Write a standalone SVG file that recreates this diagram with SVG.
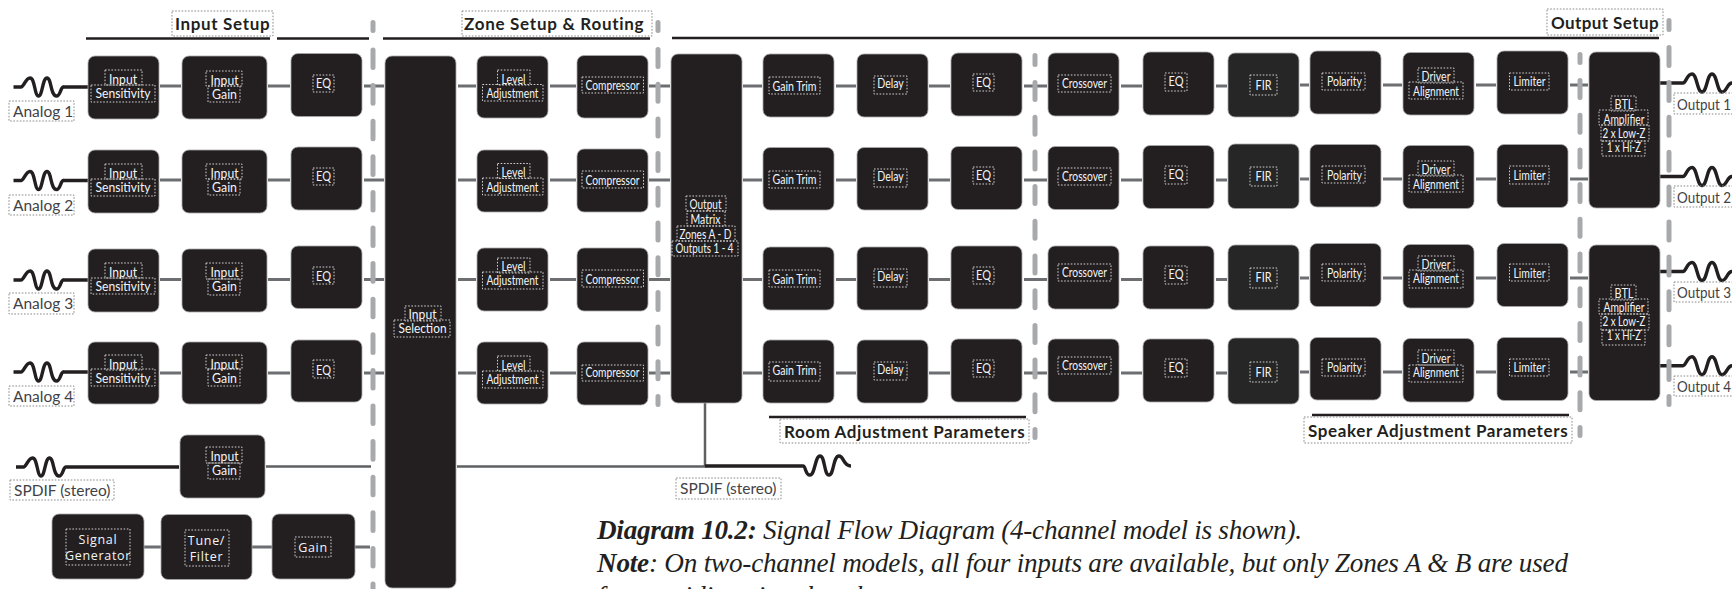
<svg xmlns="http://www.w3.org/2000/svg" xmlns:xlink="http://www.w3.org/1999/xlink" width="1732" height="589" viewBox="0 0 1732 589">
<style>
text{font-family:Lato,"Open Sans","Liberation Sans",sans-serif}
.n{fill:#231f20;stroke:#a8a8a8;stroke-width:.8}
.f{fill:#262626;stroke:#a8a8a8;stroke-width:.8}
.d{fill:none;stroke:#cfcfcf;stroke-width:1;stroke-dasharray:1.6 1.6}
.o{fill:none;stroke:#8a8a8a;stroke-width:1;stroke-dasharray:1.6 1.6}
.t{fill:#f2f5f8;font-size:12.8px;text-anchor:middle}
.s{fill:#f2f5f8;text-anchor:middle;letter-spacing:.7px;font-family:"Open Sans",sans-serif;font-size:12.5px}
.l{fill:#3f4246;font-size:15.5px}
.h{fill:#231f20;font-size:17px;font-weight:700;letter-spacing:.4px}
.c{fill:none;stroke:#6d6e71;stroke-width:3}
.b{fill:none;stroke:#231f20;stroke-width:3.4}
.r{fill:none;stroke:#231f20;stroke-width:2.6}
.v{fill:none;stroke:#5f6062;stroke-width:2.5}
.q{fill:none;stroke:#a7a9ac;stroke-width:5;stroke-linecap:round;stroke-dasharray:17 17.7}
.q1{fill:none;stroke:#a7a9ac;stroke-width:5;stroke-linecap:round}
.e{font-family:"Liberation Serif",serif;font-style:italic;font-size:27.2px;fill:#231f20}
</style>
<defs>
<path id="w" d="M0 0H7.5C10.5 0 12-9 16.5-9C21.5-9 21 9 25 9C29 9 29-9 33.5-9C38-9 37 9 43 9C47 9 47 0 50 0"/>
<path id="x" d="M0 0C3 0 4-9 9-9C14-9 14 9 19 9C24 9 24-9 29-9C34-9 34 9 39 9C44 9 44 0 49 0"/>
</defs>
<g id="connectors">
<path class="c" d="M160 86H181M268 86H290M364 86H384M458 86H476M550 86H576M649 86H670M743 86H762M836 86H856M929 86H950M1024 86H1047M1121 86H1142M1216 86H1227M1300 85H1309M1383 85H1402M1476 85H1496M1570 85H1588"/>
<path class="c" d="M160 180H181M268 180H290M364 180H384M458 180H476M550 180H576M649 180H670M743 180H762M836 180H856M929 180H950M1024 180H1047M1121 180H1142M1216 180H1227M1300 179H1309M1383 179H1402M1476 179H1496M1570 179H1588"/>
<path class="c" d="M160 279.500H181M268 279.500H290M364 279.500H384M458 279.500H476M550 279.500H576M649 279.500H670M743 279.500H762M836 279.500H856M929 279.500H950M1024 279.500H1047M1121 279.500H1142M1216 279.500H1227M1300 278H1309M1383 278H1402M1476 278H1496M1570 278H1588"/>
<path class="c" d="M160 373H181M268 373H290M364 373H384M458 373H476M550 373H576M649 373H670M743 373H762M836 373H856M929 373H950M1024 373H1047M1121 373H1142M1216 373H1227M1300 372H1309M1383 372H1402M1476 372H1496M1570 372H1588"/>
<path class="c" d="M144 547H161M252 547H272M355 547H370"/>
<path class="v" d="M266 466.500H371M457 466.500H705M705 403V466"/>
<path class="b" d="M63 87H88M63 180.500H88M63 280H88M63 372H88M66 467H179M1660 83H1683M1660 176.500H1683M1660 271.500H1683M1660 365.700H1683"/>
<path class="b" d="M705 466H803C806 466 805 475 810 475C815 475 815 456 820 456C825 456 824 475 829 475C834 475 833 456 839 456C844 456 843 466 851 466"/>
<use class="b" href="#w" x="13.500" y="87"/><use class="b" href="#w" x="13.500" y="180.500"/><use class="b" href="#w" x="13.500" y="280"/><use class="b" href="#w" x="13.500" y="372"/><use class="b" href="#w" x="16" y="467"/>
<use class="b" href="#x" x="1683" y="83"/><use class="b" href="#x" x="1683" y="176.500"/><use class="b" href="#x" x="1683" y="271.500"/><use class="b" href="#x" x="1683" y="365.700"/>
</g>
<g id="section-rules">
<path class="r" d="M86 38.500H270M277 38.500H369M383 38.500H650M672 38H1659M769 417H1026M1312 415H1569"/>
<path class="q1" d="M373 22.500V30.500M658 22.500V30.500M1035 55.500V64.500M1580 54.500V62.500M1669 20.500V29.500"/>
<path class="q" style="stroke-dasharray:17.600 18" d="M373 50V589"/>
<path class="q" d="M658 49.500V404.500"/>
<path class="q" d="M1035 82.500V437.500"/>
<path class="q" d="M1580 80.500V435.500"/>
<path class="q" style="stroke-dasharray:18 16.900" d="M1669 47.500V404.500"/>
</g>
<g id="headers">
<g id="h-input"><rect class="o" x="172" y="11" width="101" height="25"/><text class="h" x="175" y="30" textLength="95">Input Setup</text></g>
<g id="h-zone"><rect class="o" x="462" y="11" width="190" height="25"/><text class="h" x="464" y="30" textLength="180">Zone Setup &amp; Routing</text></g>
<g id="h-output"><rect class="o" x="1547" y="9" width="116" height="26"/><text class="h" x="1551" y="29" textLength="108">Output Setup</text></g>
<g id="h-room"><rect class="o" x="780" y="419" width="249" height="24"/><text class="h" x="784" y="438" textLength="241">Room Adjustment Parameters</text></g>
<g id="h-speaker"><rect class="o" x="1304" y="417" width="268" height="26"/><text class="h" x="1308" y="437" textLength="260">Speaker Adjustment Parameters</text></g>
</g>
<g id="labels">
<g id="l-a1"><rect class="o" x="9" y="101" width="65" height="20"/><text class="l" x="13" y="117">Analog 1</text></g>
<g id="l-a2"><rect class="o" x="9" y="195" width="65" height="20"/><text class="l" x="13" y="211">Analog 2</text></g>
<g id="l-a3"><rect class="o" x="9" y="293" width="65" height="21"/><text class="l" x="13" y="309">Analog 3</text></g>
<g id="l-a4"><rect class="o" x="9" y="386" width="65" height="20"/><text class="l" x="13" y="402">Analog 4</text></g>
<g id="l-sp1"><rect class="o" x="10" y="480" width="104" height="20"/><text class="l" x="14" y="496">SPDIF (stereo)</text></g>
<g id="l-sp2"><rect class="o" x="676" y="478" width="105" height="21"/><text class="l" x="680" y="494">SPDIF (stereo)</text></g>
<g id="l-o1"><rect class="o" x="1674" y="93" width="70" height="21"/><text class="l" x="1677" y="110" textLength="54" lengthAdjust="spacingAndGlyphs">Output 1</text></g>
<g id="l-o2"><rect class="o" x="1674" y="186" width="70" height="21"/><text class="l" x="1677" y="203" textLength="54" lengthAdjust="spacingAndGlyphs">Output 2</text></g>
<g id="l-o3"><rect class="o" x="1674" y="282" width="70" height="20"/><text class="l" x="1677" y="298" textLength="54" lengthAdjust="spacingAndGlyphs">Output 3</text></g>
<g id="l-o4"><rect class="o" x="1674" y="376" width="70" height="20"/><text class="l" x="1677" y="392" textLength="54" lengthAdjust="spacingAndGlyphs">Output 4</text></g>
</g>
<g id="nodes">
<g id="sens1"><rect class="n" x="88" y="56" width="71" height="63" rx="7"/><rect class="d" x="105" y="70" width="37" height="15"/><rect class="d" x="91" y="85" width="64" height="17"/><text class="t" x="123" y="84" textLength="28" lengthAdjust="spacingAndGlyphs">Input</text><text class="t" x="123" y="98" textLength="55" lengthAdjust="spacingAndGlyphs">Sensitivity</text></g>
<g id="sens2"><rect class="n" x="88" y="150" width="71" height="63" rx="7"/><rect class="d" x="105" y="164" width="37" height="15"/><rect class="d" x="91" y="179" width="64" height="17"/><text class="t" x="123" y="178" textLength="28" lengthAdjust="spacingAndGlyphs">Input</text><text class="t" x="123" y="192" textLength="55" lengthAdjust="spacingAndGlyphs">Sensitivity</text></g>
<g id="sens3"><rect class="n" x="88" y="249" width="71" height="63" rx="7"/><rect class="d" x="105" y="263" width="37" height="15"/><rect class="d" x="91" y="278" width="64" height="16"/><text class="t" x="123" y="277" textLength="28" lengthAdjust="spacingAndGlyphs">Input</text><text class="t" x="123" y="291" textLength="55" lengthAdjust="spacingAndGlyphs">Sensitivity</text></g>
<g id="sens4"><rect class="n" x="88" y="342" width="71" height="62" rx="7"/><rect class="d" x="105" y="355" width="37" height="15"/><rect class="d" x="91" y="369" width="64" height="17"/><text class="t" x="123" y="369" textLength="28" lengthAdjust="spacingAndGlyphs">Input</text><text class="t" x="123" y="383" textLength="55" lengthAdjust="spacingAndGlyphs">Sensitivity</text></g>
<g id="igain1"><rect class="n" x="182" y="56" width="85" height="63" rx="7"/><rect class="d" x="206" y="71" width="36" height="15"/><rect class="d" x="208" y="86" width="32" height="16"/><text class="t" x="224.500" y="85" textLength="28" lengthAdjust="spacingAndGlyphs">Input</text><text class="t" x="224.500" y="99" textLength="25" lengthAdjust="spacingAndGlyphs">Gain</text></g>
<g id="igain2"><rect class="n" x="182" y="150" width="85" height="63" rx="7"/><rect class="d" x="206" y="164" width="36" height="15"/><rect class="d" x="208" y="179" width="32" height="16"/><text class="t" x="224.500" y="178" textLength="28" lengthAdjust="spacingAndGlyphs">Input</text><text class="t" x="224.500" y="192" textLength="25" lengthAdjust="spacingAndGlyphs">Gain</text></g>
<g id="igain3"><rect class="n" x="182" y="249" width="85" height="63" rx="7"/><rect class="d" x="206" y="263" width="36" height="16"/><rect class="d" x="208" y="279" width="32" height="16"/><text class="t" x="224.500" y="277" textLength="28" lengthAdjust="spacingAndGlyphs">Input</text><text class="t" x="224.500" y="291" textLength="25" lengthAdjust="spacingAndGlyphs">Gain</text></g>
<g id="igain4"><rect class="n" x="182" y="342" width="85" height="62" rx="7"/><rect class="d" x="206" y="355" width="36" height="14"/><rect class="d" x="208" y="369" width="32" height="17"/><text class="t" x="224.500" y="369" textLength="28" lengthAdjust="spacingAndGlyphs">Input</text><text class="t" x="224.500" y="383" textLength="25" lengthAdjust="spacingAndGlyphs">Gain</text></g>
<g id="igain5"><rect class="n" x="180" y="435" width="85" height="63" rx="7"/><rect class="d" x="206" y="447" width="36" height="16"/><rect class="d" x="208" y="463" width="32" height="16"/><text class="t" x="224.500" y="461" textLength="28" lengthAdjust="spacingAndGlyphs">Input</text><text class="t" x="224.500" y="475" textLength="25" lengthAdjust="spacingAndGlyphs">Gain</text></g>
<g id="ieq1"><rect class="n" x="291" y="53.500" width="71" height="63" rx="7"/><rect class="d" x="313" y="75" width="21" height="17"/><text class="t" x="323.500" y="88" textLength="15" lengthAdjust="spacingAndGlyphs">EQ</text></g>
<g id="ieq2"><rect class="n" x="291" y="147" width="71" height="63" rx="7"/><rect class="d" x="313" y="168" width="21" height="17"/><text class="t" x="323.500" y="181" textLength="15" lengthAdjust="spacingAndGlyphs">EQ</text></g>
<g id="ieq3"><rect class="n" x="291" y="246" width="71" height="62.500" rx="7"/><rect class="d" x="313" y="267" width="21" height="17"/><text class="t" x="323.500" y="281" textLength="15" lengthAdjust="spacingAndGlyphs">EQ</text></g>
<g id="ieq4"><rect class="n" x="291" y="340" width="71" height="62" rx="7"/><rect class="d" x="313" y="360" width="21" height="18"/><text class="t" x="323.500" y="375" textLength="15" lengthAdjust="spacingAndGlyphs">EQ</text></g>
<g id="siggen"><rect class="n" x="52" y="514" width="92" height="65" rx="7"/><rect class="d" x="66" y="529" width="64" height="36"/><text class="s" x="98" y="544">Signal</text><text class="s" x="98" y="560">Generator</text></g>
<g id="tune"><rect class="n" x="161" y="514.500" width="91" height="65" rx="7"/><rect class="d" x="185" y="530" width="44" height="36"/><text class="s" x="206.500" y="545">Tune/</text><text class="s" x="206.500" y="561">Filter</text></g>
<g id="siggain"><rect class="n" x="272" y="514" width="83" height="65" rx="7"/><rect class="d" x="295" y="537" width="36" height="20"/><text class="s" x="313" y="552">Gain</text></g>
<g id="selection"><rect class="n" x="385" y="56" width="71" height="532" rx="7"/><rect class="d" x="405" y="306" width="36" height="15"/><rect class="d" x="394" y="320" width="56" height="17"/><text class="t" x="422.500" y="319" textLength="28" lengthAdjust="spacingAndGlyphs">Input</text><text class="t" x="422.500" y="333" textLength="48" lengthAdjust="spacingAndGlyphs">Selection</text></g>
<g id="level1"><rect class="n" x="477" y="56" width="71" height="62" rx="7"/><rect class="d" x="497.500" y="70" width="32.500" height="15"/><rect class="d" x="482.500" y="84.500" width="60.500" height="16.500"/><text class="t" x="513.500" y="84" textLength="24" lengthAdjust="spacingAndGlyphs">Level</text><text class="t" x="512.500" y="98" textLength="52" lengthAdjust="spacingAndGlyphs">Adjustment</text></g>
<g id="level2"><rect class="n" x="477" y="150" width="71" height="62" rx="7"/><rect class="d" x="497.500" y="163.500" width="32.500" height="15"/><rect class="d" x="482.500" y="178" width="60.500" height="17"/><text class="t" x="513.500" y="177" textLength="24" lengthAdjust="spacingAndGlyphs">Level</text><text class="t" x="512.500" y="192" textLength="52" lengthAdjust="spacingAndGlyphs">Adjustment</text></g>
<g id="level3"><rect class="n" x="477" y="248" width="71" height="63" rx="7"/><rect class="d" x="497.500" y="258" width="32.500" height="15"/><rect class="d" x="482.500" y="272" width="60.500" height="17"/><text class="t" x="513.500" y="271" textLength="24" lengthAdjust="spacingAndGlyphs">Level</text><text class="t" x="512.500" y="285" textLength="52" lengthAdjust="spacingAndGlyphs">Adjustment</text></g>
<g id="level4"><rect class="n" x="477" y="342" width="71" height="62" rx="7"/><rect class="d" x="497.500" y="356" width="32.500" height="15"/><rect class="d" x="482.500" y="371" width="60.500" height="17"/><text class="t" x="513.500" y="370" textLength="24" lengthAdjust="spacingAndGlyphs">Level</text><text class="t" x="512.500" y="384" textLength="52" lengthAdjust="spacingAndGlyphs">Adjustment</text></g>
<g id="comp1"><rect class="n" x="577" y="55.500" width="71" height="62.500" rx="7"/><rect class="d" x="582" y="77" width="61.500" height="16"/><text class="t" x="612.500" y="90" textLength="54" lengthAdjust="spacingAndGlyphs">Compressor</text></g>
<g id="comp2"><rect class="n" x="577" y="149" width="71" height="63" rx="7"/><rect class="d" x="582" y="171" width="61.500" height="17"/><text class="t" x="612.500" y="185" textLength="54" lengthAdjust="spacingAndGlyphs">Compressor</text></g>
<g id="comp3"><rect class="n" x="577" y="248" width="71" height="63" rx="7"/><rect class="d" x="582" y="270" width="61.500" height="17"/><text class="t" x="612.500" y="284" textLength="54" lengthAdjust="spacingAndGlyphs">Compressor</text></g>
<g id="comp4"><rect class="n" x="577" y="342" width="71" height="63" rx="7"/><rect class="d" x="582" y="365" width="61.500" height="16"/><text class="t" x="612.500" y="377" textLength="54" lengthAdjust="spacingAndGlyphs">Compressor</text></g>
<g id="matrix"><rect class="n" x="671" y="54" width="71" height="349" rx="7"/><rect class="d" x="686" y="196" width="40" height="15"/><rect class="d" x="687" y="211" width="38" height="15"/><rect class="d" x="677" y="226" width="58" height="15"/><rect class="d" x="672" y="241" width="66" height="15"/><text class="t" x="705.500" y="209" textLength="32" lengthAdjust="spacingAndGlyphs">Output</text><text class="t" x="705.500" y="224" textLength="30" lengthAdjust="spacingAndGlyphs">Matrix</text><text class="t" x="705.500" y="239" textLength="52" lengthAdjust="spacingAndGlyphs">Zones A - D</text><text class="t" x="704.500" y="253" textLength="58" lengthAdjust="spacingAndGlyphs">Outputs 1 - 4</text></g>
<g id="trim1"><rect class="n" x="763" y="54" width="71" height="63" rx="7"/><rect class="d" x="769" y="77" width="51" height="17"/><text class="t" x="794.500" y="91" textLength="44" lengthAdjust="spacingAndGlyphs">Gain Trim</text></g>
<g id="trim2"><rect class="n" x="763" y="147.500" width="71" height="62.500" rx="7"/><rect class="d" x="769" y="171" width="51" height="17"/><text class="t" x="794.500" y="184" textLength="44" lengthAdjust="spacingAndGlyphs">Gain Trim</text></g>
<g id="trim3"><rect class="n" x="763" y="247" width="71" height="63" rx="7"/><rect class="d" x="769" y="270" width="51" height="17"/><text class="t" x="794.500" y="284" textLength="44" lengthAdjust="spacingAndGlyphs">Gain Trim</text></g>
<g id="trim4"><rect class="n" x="763" y="340" width="71" height="63" rx="7"/><rect class="d" x="769" y="362" width="51" height="19"/><text class="t" x="794.500" y="375" textLength="44" lengthAdjust="spacingAndGlyphs">Gain Trim</text></g>
<g id="delay1"><rect class="n" x="857" y="54" width="71" height="63" rx="7"/><rect class="d" x="874" y="76" width="33" height="18"/><text class="t" x="890.500" y="88" textLength="26.500" lengthAdjust="spacingAndGlyphs">Delay</text></g>
<g id="delay2"><rect class="n" x="857" y="147.500" width="71" height="62.500" rx="7"/><rect class="d" x="874" y="169" width="33" height="18"/><text class="t" x="890.500" y="181" textLength="26.500" lengthAdjust="spacingAndGlyphs">Delay</text></g>
<g id="delay3"><rect class="n" x="857" y="247" width="71" height="63" rx="7"/><rect class="d" x="874" y="269" width="33" height="18"/><text class="t" x="890.500" y="281" textLength="26.500" lengthAdjust="spacingAndGlyphs">Delay</text></g>
<g id="delay4"><rect class="n" x="857" y="340" width="71" height="63" rx="7"/><rect class="d" x="874" y="362" width="33" height="18"/><text class="t" x="890.500" y="374" textLength="26.500" lengthAdjust="spacingAndGlyphs">Delay</text></g>
<g id="req1"><rect class="n" x="951" y="53" width="71" height="63" rx="7"/><rect class="d" x="973" y="74" width="21" height="17"/><text class="t" x="983.500" y="87" textLength="15" lengthAdjust="spacingAndGlyphs">EQ</text></g>
<g id="req2"><rect class="n" x="951" y="146.500" width="71" height="63" rx="7"/><rect class="d" x="973" y="167" width="21" height="17"/><text class="t" x="983.500" y="180" textLength="15" lengthAdjust="spacingAndGlyphs">EQ</text></g>
<g id="req3"><rect class="n" x="951" y="246" width="71" height="63" rx="7"/><rect class="d" x="973" y="267" width="21" height="17"/><text class="t" x="983.500" y="280" textLength="15" lengthAdjust="spacingAndGlyphs">EQ</text></g>
<g id="req4"><rect class="n" x="951" y="339" width="71" height="63" rx="7"/><rect class="d" x="973" y="360" width="21" height="17"/><text class="t" x="983.500" y="373" textLength="15" lengthAdjust="spacingAndGlyphs">EQ</text></g>
<g id="xo1"><rect class="n" x="1048" y="53" width="71" height="63" rx="7"/><rect class="d" x="1058" y="75" width="53" height="17"/><text class="t" x="1084.500" y="88" textLength="45" lengthAdjust="spacingAndGlyphs">Crossover</text></g>
<g id="xo2"><rect class="n" x="1048" y="146.500" width="71" height="63" rx="7"/><rect class="d" x="1058" y="168" width="53" height="17"/><text class="t" x="1084.500" y="181" textLength="45" lengthAdjust="spacingAndGlyphs">Crossover</text></g>
<g id="xo3"><rect class="n" x="1048" y="246" width="71" height="63" rx="7"/><rect class="d" x="1058" y="264" width="53" height="17"/><text class="t" x="1084.500" y="277" textLength="45" lengthAdjust="spacingAndGlyphs">Crossover</text></g>
<g id="xo4"><rect class="n" x="1048" y="339" width="71" height="63" rx="7"/><rect class="d" x="1058" y="357" width="53" height="17"/><text class="t" x="1084.500" y="370" textLength="45" lengthAdjust="spacingAndGlyphs">Crossover</text></g>
<g id="seq1"><rect class="n" x="1143" y="52" width="71" height="63" rx="7"/><rect class="d" x="1165" y="73" width="22" height="18"/><text class="t" x="1176" y="86" textLength="15" lengthAdjust="spacingAndGlyphs">EQ</text></g>
<g id="seq2"><rect class="n" x="1143" y="145.500" width="71" height="63" rx="7"/><rect class="d" x="1165" y="166" width="22" height="18"/><text class="t" x="1176" y="179" textLength="15" lengthAdjust="spacingAndGlyphs">EQ</text></g>
<g id="seq3"><rect class="n" x="1143" y="246" width="71" height="63" rx="7"/><rect class="d" x="1165" y="266" width="22" height="18"/><text class="t" x="1176" y="279" textLength="15" lengthAdjust="spacingAndGlyphs">EQ</text></g>
<g id="seq4"><rect class="n" x="1143" y="339" width="71" height="63" rx="7"/><rect class="d" x="1165" y="359" width="22" height="18"/><text class="t" x="1176" y="372" textLength="15" lengthAdjust="spacingAndGlyphs">EQ</text></g>
<g id="fir1"><rect class="f" x="1228" y="53" width="71" height="64" rx="7"/><rect class="d" x="1250" y="75" width="27" height="20"/><text class="t" x="1263.500" y="90" textLength="16" lengthAdjust="spacingAndGlyphs">FIR</text></g>
<g id="fir2"><rect class="f" x="1228" y="144" width="71" height="64.500" rx="7"/><rect class="d" x="1250" y="167" width="27" height="19"/><text class="t" x="1263.500" y="181" textLength="16" lengthAdjust="spacingAndGlyphs">FIR</text></g>
<g id="fir3"><rect class="f" x="1228" y="245" width="71" height="65" rx="7"/><rect class="d" x="1250" y="268" width="27" height="20"/><text class="t" x="1263.500" y="282" textLength="16" lengthAdjust="spacingAndGlyphs">FIR</text></g>
<g id="fir4"><rect class="f" x="1228" y="338" width="71" height="66" rx="7"/><rect class="d" x="1250" y="362" width="27" height="20"/><text class="t" x="1263.500" y="377" textLength="16" lengthAdjust="spacingAndGlyphs">FIR</text></g>
<g id="pol1"><rect class="n" x="1310" y="51" width="71" height="63" rx="7"/><rect class="d" x="1322" y="73" width="43" height="17"/><text class="t" x="1344.500" y="86" textLength="35" lengthAdjust="spacingAndGlyphs">Polarity</text></g>
<g id="pol2"><rect class="n" x="1310" y="144.500" width="71" height="62.500" rx="7"/><rect class="d" x="1322" y="166" width="43" height="17"/><text class="t" x="1344.500" y="180" textLength="35" lengthAdjust="spacingAndGlyphs">Polarity</text></g>
<g id="pol3"><rect class="n" x="1310" y="243.500" width="71" height="63" rx="7"/><rect class="d" x="1322" y="264" width="43" height="17"/><text class="t" x="1344.500" y="278" textLength="35" lengthAdjust="spacingAndGlyphs">Polarity</text></g>
<g id="pol4"><rect class="n" x="1310" y="337.500" width="71" height="62.500" rx="7"/><rect class="d" x="1322" y="359" width="43" height="17"/><text class="t" x="1344.500" y="372" textLength="35" lengthAdjust="spacingAndGlyphs">Polarity</text></g>
<g id="drv1"><rect class="n" x="1403" y="52.500" width="71" height="62.500" rx="7"/><rect class="d" x="1418" y="68" width="36" height="15"/><rect class="d" x="1409" y="82" width="54" height="17"/><text class="t" x="1436" y="81" textLength="29" lengthAdjust="spacingAndGlyphs">Driver</text><text class="t" x="1436" y="95.500" textLength="46" lengthAdjust="spacingAndGlyphs">Alignment</text></g>
<g id="drv2"><rect class="n" x="1403" y="145.500" width="71" height="63" rx="7"/><rect class="d" x="1418" y="161" width="36" height="15"/><rect class="d" x="1409" y="175" width="54" height="17"/><text class="t" x="1436" y="174" textLength="29" lengthAdjust="spacingAndGlyphs">Driver</text><text class="t" x="1436" y="189" textLength="46" lengthAdjust="spacingAndGlyphs">Alignment</text></g>
<g id="drv3"><rect class="n" x="1403" y="244.500" width="71" height="63.500" rx="7"/><rect class="d" x="1418" y="256" width="36" height="15"/><rect class="d" x="1409" y="270" width="54" height="18"/><text class="t" x="1436" y="269" textLength="29" lengthAdjust="spacingAndGlyphs">Driver</text><text class="t" x="1436" y="283" textLength="46" lengthAdjust="spacingAndGlyphs">Alignment</text></g>
<g id="drv4"><rect class="n" x="1403" y="338.500" width="71" height="63.500" rx="7"/><rect class="d" x="1418" y="350" width="36" height="15"/><rect class="d" x="1409" y="365" width="54" height="17"/><text class="t" x="1436" y="363" textLength="29" lengthAdjust="spacingAndGlyphs">Driver</text><text class="t" x="1436" y="377" textLength="46" lengthAdjust="spacingAndGlyphs">Alignment</text></g>
<g id="lim1"><rect class="n" x="1497" y="51" width="71" height="63" rx="7"/><rect class="d" x="1509.500" y="73" width="39.500" height="17"/><text class="t" x="1529.500" y="86" textLength="32" lengthAdjust="spacingAndGlyphs">Limiter</text></g>
<g id="lim2"><rect class="n" x="1497" y="144.500" width="71" height="63" rx="7"/><rect class="d" x="1509.500" y="166" width="39.500" height="18"/><text class="t" x="1529.500" y="180" textLength="32" lengthAdjust="spacingAndGlyphs">Limiter</text></g>
<g id="lim3"><rect class="n" x="1497" y="243.500" width="71" height="63" rx="7"/><rect class="d" x="1509.500" y="264" width="39.500" height="17"/><text class="t" x="1529.500" y="278" textLength="32" lengthAdjust="spacingAndGlyphs">Limiter</text></g>
<g id="lim4"><rect class="n" x="1497" y="337.500" width="71" height="63" rx="7"/><rect class="d" x="1509.500" y="359" width="39.500" height="17"/><text class="t" x="1529.500" y="372" textLength="32" lengthAdjust="spacingAndGlyphs">Limiter</text></g>
<g id="btl1"><rect class="n" x="1589" y="52" width="71" height="156" rx="7"/><rect class="d" x="1611" y="96" width="25" height="15"/><rect class="d" x="1599" y="110" width="49" height="15"/><rect class="d" x="1601" y="125" width="48" height="16"/><rect class="d" x="1602" y="141" width="43" height="15"/><text class="t" x="1624" y="109" textLength="19" lengthAdjust="spacingAndGlyphs">BTL</text><text class="t" x="1624" y="124" textLength="41" lengthAdjust="spacingAndGlyphs">Amplifier</text><text class="t" x="1624" y="138" textLength="43" lengthAdjust="spacingAndGlyphs">2 x Low-Z</text><text class="t" x="1624" y="152" textLength="34" lengthAdjust="spacingAndGlyphs">1 x Hi-Z</text></g>
<g id="btl2"><rect class="n" x="1589" y="245" width="71" height="155.500" rx="7"/><rect class="d" x="1611" y="285" width="25" height="15"/><rect class="d" x="1599" y="299" width="49" height="15"/><rect class="d" x="1601" y="314" width="48" height="16"/><rect class="d" x="1602" y="330" width="43" height="15"/><text class="t" x="1624" y="298" textLength="19" lengthAdjust="spacingAndGlyphs">BTL</text><text class="t" x="1624" y="312" textLength="41" lengthAdjust="spacingAndGlyphs">Amplifier</text><text class="t" x="1624" y="326" textLength="43" lengthAdjust="spacingAndGlyphs">2 x Low-Z</text><text class="t" x="1624" y="340" textLength="34" lengthAdjust="spacingAndGlyphs">1 x Hi-Z</text></g>
</g>
<g id="caption">
<text class="e" x="597" y="539" textLength="705"><tspan font-weight="700">Diagram 10.2:</tspan> Signal Flow Diagram (4-channel model is shown).</text>
<text class="e" x="597" y="572" textLength="971"><tspan font-weight="700">Note</tspan>: On two-channel models, all four inputs are available, but only Zones A &amp; B are used</text>
<text class="e" x="597" y="604.500">for providing signal to the outputs.</text>
</g>
</svg>
